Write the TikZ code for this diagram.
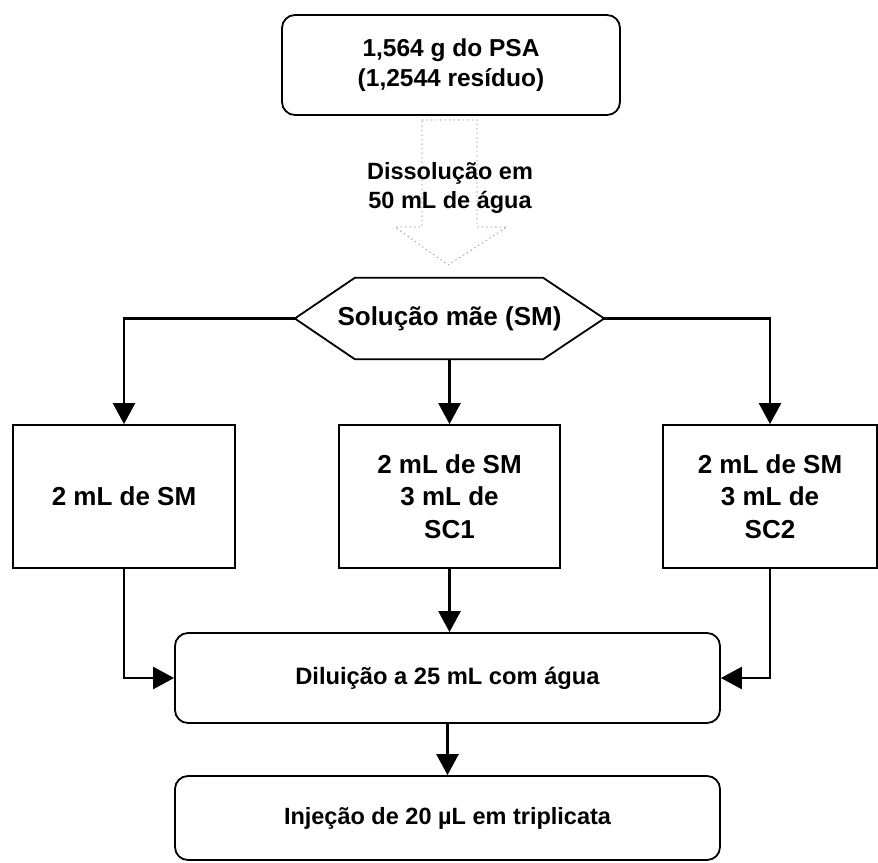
\documentclass[tikz,border=0pt]{standalone}
\usepackage{fontspec}
\setmainfont{Liberation Sans}
\usetikzlibrary{arrows.meta}
\tikzset{
  rbox/.style={draw, line width=1.8pt, rounded corners=13pt, align=center, font=\bfseries, inner sep=0pt},
  sbox/.style={draw, line width=1.8pt, align=center, inner sep=0pt, minimum width=#1, minimum height=143pt,
               font=\fontsize{26}{32.5}\selectfont\bfseries},
  conn/.style={line width=2.6pt, -{Triangle[length=21pt,width=22pt]}},
  faint/.style={draw=black!45, line width=0.7pt, dash pattern=on 1.5pt off 3pt},
}
\begin{document}
\begin{tikzpicture}[x=1pt,y=-1pt]
\useasboundingbox (0,0) rectangle (878,862);

% top box
\node[rbox, minimum width=338pt, minimum height=100pt, font=\fontsize{24.5}{30}\selectfont\bfseries]
  (top) at (451,65) {1,564 g do PSA\\(1,2544 resíduo)};

% faint block arrow
\draw[faint] (422,120) -- (477,120) -- (477,227) -- (507,227) -- (448,265) -- (395,227) -- (422,227) -- cycle;
\node[align=center, font=\fontsize{23.5}{29.5}\selectfont\bfseries, inner sep=0pt]
  (diss) at (450,188) {Dissolução em\\50 mL de água};

% hexagon
\node[minimum width=309pt, minimum height=81pt, inner sep=0pt, font=\fontsize{26}{30}\selectfont\bfseries]
  (hex) at (449.5,318.5) {Solução mãe (SM)};
\draw[line width=1.8pt, line join=miter] (hex.west) -- ([xshift=60pt]hex.north west) -- ([xshift=-61pt]hex.north east)
  -- (hex.east) -- ([xshift=-61pt]hex.south east) -- ([xshift=60pt]hex.south west) -- cycle;

% three boxes
\node[sbox=222pt] (lbox) at (124,496.5) {2 mL de SM};
\node[sbox=221pt] (mbox) at (449.5,496.5) {2 mL de SM\\3 mL de\\SC1};
\node[sbox=214pt] (rbox) at (770,496.5) {2 mL de SM\\3 mL de\\SC2};

% dilution and injection
\node[rbox, minimum width=545pt, minimum height=90pt, font=\fontsize{23.7}{28}\selectfont\bfseries]
  (dil) at (447.5,678) {Diluição a 25 mL com água};
\node[rbox, minimum width=545pt, minimum height=84pt, font=\fontsize{23.5}{28}\selectfont\bfseries]
  (inj) at (447.5,818) {Injeção de 20 µL em triplicata};

% connectors
\draw[conn] (hex.west) -| (lbox.north);
\draw[conn] (hex.east) -| (rbox.north);
\draw[conn] (hex.south) -- (mbox.north);
\draw[conn] (lbox.south) |- (dil.west);
\draw[conn] (rbox.south) |- (dil.east);
\draw[conn] (mbox.south) -- (mbox.south |- dil.north);
\draw[conn] (dil.south) -- (inj.north);
\end{tikzpicture}
\end{document}
